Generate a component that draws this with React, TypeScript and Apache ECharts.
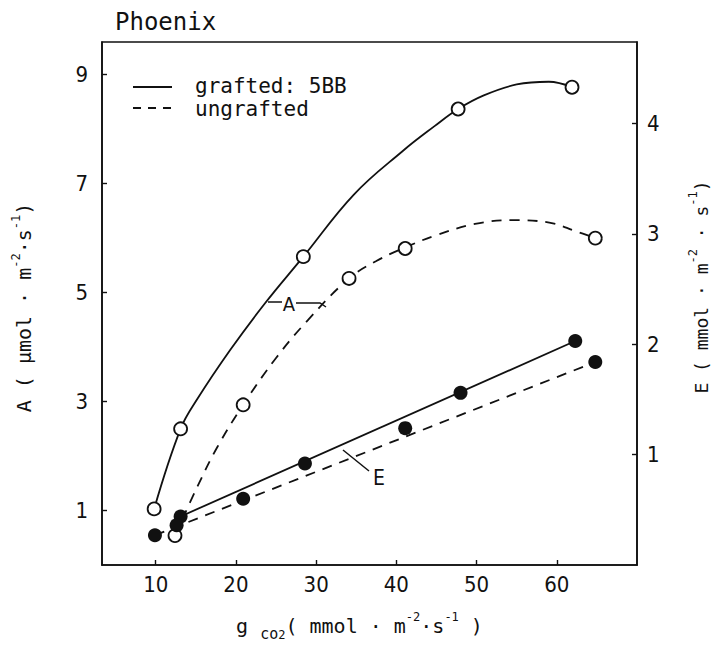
import React, { useEffect, useRef } from "react";
import * as echarts from "echarts";

// ---- tick values ----
const xTicks = [10, 20, 30, 40, 50, 60];
const aTicks = [1, 3, 5, 7, 9];
const eTicks = [1, 2, 3, 4];

// ---- measured points: net photosynthesis A (open circles) ----
const aGraftedX = [9.8, 13.1, 28.4, 47.7, 61.9];
const aGraftedY = [1.03, 2.5, 5.66, 8.37, 8.77];
const aUngraftedX = [12.4, 20.9, 34.1, 41.1, 64.8];
const aUngraftedY = [0.54, 2.94, 5.26, 5.81, 6.0];

// ---- measured points: transpiration E (filled circles) ----
const eGraftedX = [9.9, 13.1, 28.6, 48.0, 62.3];
const eGraftedY = [0.27, 0.44, 0.92, 1.56, 2.03];
const eUngraftedX = [12.6, 20.9, 41.1, 64.8];
const eUngraftedY = [0.36, 0.6, 1.24, 1.84];

// ---- hand-fitted curves as drawn in the figure ----
const aGraftedCurveX = [9.8, 13.1, 15.2, 19.3, 23.6, 28.4, 34.7, 40.8, 44.8, 47.7, 50.9, 55, 59, 61.9];
const aGraftedCurveY = [1.03, 2.5, 3.05, 3.95, 4.8, 5.66, 6.8, 7.6, 8.06, 8.37, 8.62, 8.82, 8.87, 8.77];
const aUngraftedCurveX = [12.4, 15.2, 17.7, 20.9, 25, 29, 34.1, 37.5, 41.1, 45.1, 49.8, 54.3, 58.9, 62.5, 64.8];
const aUngraftedCurveY = [0.54, 1.44, 2.17, 2.94, 3.8, 4.5, 5.26, 5.58, 5.83, 6.06, 6.26, 6.33, 6.29, 6.12, 6.0];

// ---- fitted straight lines for E ----
const eGraftedLineX = [13.1, 62.3];
const eGraftedLineY = [0.44, 2.03];
const eUngraftedLineX = [9.9, 64.8];
const eUngraftedLineY = [0.27, 1.84];

const zip = (xs: number[], ys: number[]) => xs.map((x, i) => [x, ys[i]]);

const INK = "#111";
const FONT = "'DejaVu Sans Condensed', 'DejaVu Sans', sans-serif";
const MONO = "'DejaVu Sans Mono', monospace";

const rich = {
  sup: { fontSize: 12, verticalAlign: "top" as const, lineHeight: 13, fontFamily: MONO, color: INK },
  sub: { fontSize: 15, verticalAlign: "bottom" as const, lineHeight: 20, fontFamily: MONO, color: INK },
  sub2: { fontSize: 12, verticalAlign: "bottom" as const, lineHeight: 12, fontFamily: MONO, color: INK },
};

export default function App() {
  const ref = useRef<HTMLDivElement>(null);
  useEffect(() => {
    const chart = echarts.init(ref.current!, null, { renderer: "svg" });
    const axisLine = { show: true, lineStyle: { color: INK, width: 1.6 } };
    const labelStyle = { color: INK, fontSize: 22, fontFamily: FONT };
    const tickStyle = { color: INK, width: 1.4 };
    const option: any = {
      animation: false,
      backgroundColor: "#fff",
      grid: {
        left: 102,
        right: 73,
        top: 42,
        bottom: 83,
        show: true,
        borderColor: INK,
        borderWidth: 1.6,
      },
      xAxis: {
        type: "value",
        min: 3.3,
        max: 70,
        axisLine,
        axisTick: { show: true, inside: true, length: 5, customValues: xTicks, lineStyle: tickStyle },
        axisLabel: { ...labelStyle, margin: 8, customValues: xTicks },
        splitLine: { show: false },
        name: "g {sub|co}{sub2|2}( mmol · m{sup|-2}·s{sup|-1} )",
        nameLocation: "middle",
        nameGap: 46,
        nameTextStyle: {
          color: INK,
          fontSize: 20,
          fontFamily: MONO,
          lineHeight: 30,
          padding: [0, 20, 0, 0],
          rich,
        },
      },
      yAxis: [
        {
          type: "value",
          position: "left",
          min: 0,
          max: 9.6,
          axisLine,
          axisTick: { show: true, inside: true, length: 5, customValues: aTicks, lineStyle: tickStyle },
          axisLabel: { ...labelStyle, margin: 14, customValues: aTicks },
          splitLine: { show: false },
          name: "A ( μmol · m{sup|-2}·s{sup|-1})",
          nameLocation: "middle",
          nameGap: 64,
          nameTextStyle: {
            color: INK,
            fontSize: 20,
            fontFamily: MONO,
            lineHeight: 28,
            padding: [0, 8, 0, 0],
            rich,
          },
        },
        {
          type: "value",
          position: "right",
          min: 0,
          max: 4.74,
          axisLine,
          axisTick: { show: true, inside: true, length: 5, customValues: eTicks, lineStyle: tickStyle },
          axisLabel: { ...labelStyle, margin: 10, customValues: eTicks },
          splitLine: { show: false },
          name: "E ( mmol · m{sup|-2} · s{sup|-1})",
          nameLocation: "middle",
          nameGap: 50,
          nameTextStyle: {
            color: INK,
            fontSize: 18,
            fontFamily: MONO,
            lineHeight: 28,
            padding: [0, 0, 0, 33],
            rich,
          },
        },
      ],
      series: [
        {
          name: "grafted: 5BB",
          type: "line",
          yAxisIndex: 0,
          data: zip(aGraftedCurveX, aGraftedCurveY),
          smooth: 0.4,
          symbol: "none",
          lineStyle: { color: INK, width: 1.8 },
        },
        {
          name: "ungrafted",
          type: "line",
          yAxisIndex: 0,
          data: zip(aUngraftedCurveX, aUngraftedCurveY),
          smooth: 0.4,
          symbol: "none",
          lineStyle: { color: INK, width: 1.8, type: [10, 8] },
        },
        {
          name: "E grafted",
          type: "line",
          yAxisIndex: 1,
          data: zip(eGraftedLineX, eGraftedLineY),
          symbol: "none",
          lineStyle: { color: INK, width: 1.8 },
        },
        {
          name: "E ungrafted",
          type: "line",
          yAxisIndex: 1,
          data: zip(eUngraftedLineX, eUngraftedLineY),
          symbol: "none",
          lineStyle: { color: INK, width: 1.8, type: [10, 8] },
        },
        {
          name: "A grafted points",
          type: "scatter",
          yAxisIndex: 0,
          data: zip(aGraftedX, aGraftedY),
          symbol: "circle",
          symbolSize: 13,
          itemStyle: { color: "#fff", borderColor: INK, borderWidth: 1.8, opacity: 1 },
          z: 5,
        },
        {
          name: "A ungrafted points",
          type: "scatter",
          yAxisIndex: 0,
          data: zip(aUngraftedX, aUngraftedY),
          symbol: "circle",
          symbolSize: 13,
          itemStyle: { color: "#fff", borderColor: INK, borderWidth: 1.8, opacity: 1 },
          z: 5,
        },
        {
          name: "E grafted points",
          type: "scatter",
          yAxisIndex: 1,
          data: zip(eGraftedX, eGraftedY),
          symbol: "circle",
          symbolSize: 14,
          itemStyle: { color: INK, opacity: 1 },
          z: 5,
        },
        {
          name: "E ungrafted points",
          type: "scatter",
          yAxisIndex: 1,
          data: zip(eUngraftedX, eUngraftedY),
          symbol: "circle",
          symbolSize: 14,
          itemStyle: { color: INK, opacity: 1 },
          z: 5,
        },
      ],
      graphic: [
        {
          type: "text",
          x: 115,
          y: 22,
          style: { text: "Phoenix", fontSize: 24, fontFamily: MONO, fill: INK, verticalAlign: "middle", lineHeight: 20 },
        },
        // legend
        { type: "line", shape: { x1: 133, y1: 87, x2: 172, y2: 87 }, style: { stroke: INK, lineWidth: 2 } },
        {
          type: "text",
          x: 195,
          y: 86,
          style: { text: "grafted: 5BB", fontSize: 21, fontFamily: MONO, fill: INK, verticalAlign: "middle" },
        },
        {
          type: "line",
          shape: { x1: 133, y1: 108, x2: 172, y2: 108 },
          style: { stroke: INK, lineWidth: 2, lineDash: [8, 7] },
        },
        {
          type: "text",
          x: 195,
          y: 109,
          style: { text: "ungrafted", fontSize: 21, fontFamily: MONO, fill: INK, verticalAlign: "middle" },
        },
        // "A" annotation
        { type: "line", shape: { x1: 268, y1: 302, x2: 282, y2: 302 }, style: { stroke: INK, lineWidth: 1.5 } },
        {
          type: "text",
          x: 289,
          y: 304,
          style: { text: "A", fontSize: 20, fontFamily: FONT, fill: INK, align: "center", verticalAlign: "middle" },
        },
        {
          type: "polyline",
          shape: { points: [[296, 303], [320, 303], [326, 307]] },
          style: { stroke: INK, lineWidth: 1.5, fill: null },
        },
        // "E" annotation
        { type: "line", shape: { x1: 343, y1: 450, x2: 369, y2: 471 }, style: { stroke: INK, lineWidth: 1.5 } },
        {
          type: "text",
          x: 379,
          y: 478,
          style: { text: "E", fontSize: 21, fontFamily: FONT, fill: INK, align: "center", verticalAlign: "middle" },
        },
      ],
    };
    chart.setOption(option);
    return () => chart.dispose();
  }, []);
  return (
    <div
      ref={ref}
      style={{ position: "absolute", left: 0, top: 0, width: 723, height: 648, background: "#fff" }}
    />
  );
}
